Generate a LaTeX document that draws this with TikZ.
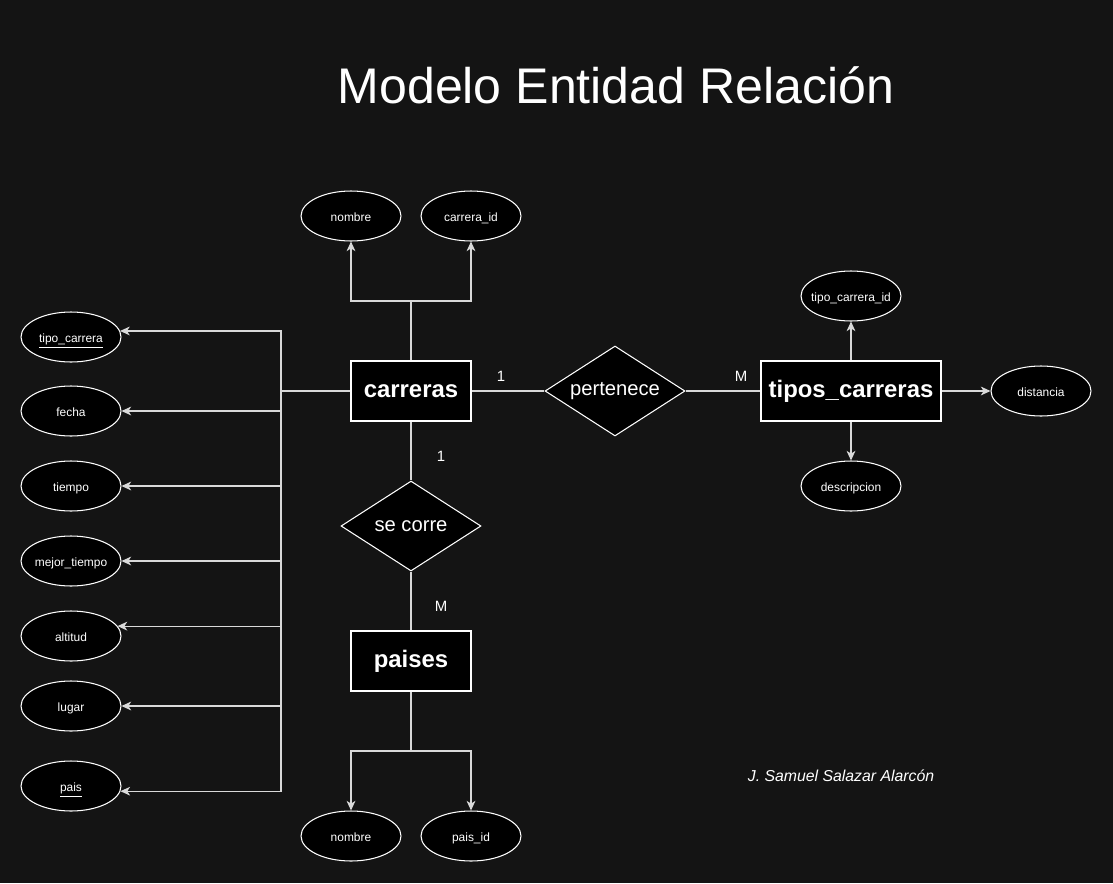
\documentclass[tikz,border=0pt]{standalone}
\usepackage{fontspec}
\setmainfont{Liberation Sans}
\usepackage{tikz}
\usetikzlibrary{shapes, arrows.meta, positioning}
\definecolor{bgdark}{HTML}{141414}

\begin{document}
\begin{tikzpicture}
  [
    x=0.02cm, y=-0.02cm,
    Entity/.style={rectangle, draw=white, fill=black, text=white, line width=0.6pt, minimum width=2.4cm, minimum height=1.2cm, text height=8pt, text depth=1pt, font=\bfseries\fontsize{13.6}{15}\selectfont},
    Rel/.style={diamond, aspect=1.55, draw=white, fill=black, text=white, line width=0.6pt, minimum width=2.8cm, minimum height=1.8cm, inner sep=0pt, font=\fontsize{11.5}{13}\selectfont},
    Attr/.style={ellipse, draw=white, fill=black, text=white, line width=0.6pt, minimum width=2cm, minimum height=1cm, inner xsep=-3pt, inner ysep=0pt, text height=1.6ex, text depth=0.4ex, font=\fontsize{6.8}{8}\selectfont},
    Card/.style={text=white, font=\fontsize{8.5}{10}\selectfont},
    Link/.style={draw=white!85!black, line width=0.6pt},
    Arrow/.style={Link, -{Stealth[length=5.5pt, width=5pt, inset=1.6pt]}}
  ]
  \fill[bgdark] (0,0) rectangle (1113,883);
  \useasboundingbox (0,0) rectangle (1113,883);
  % Nodes
  \node[text=white, font=\fontsize{28.5}{34}\selectfont] (title) at (616,85) {Modelo Entidad Relación};
  \node[Entity] (carreras) at (411,391) {carreras};
  \node[Entity, minimum width=3.6cm] (tipos) at (851,391) {tipos\_carreras};
  \node[Entity] (paises) at (411,661) {paises};
  \node[Rel] (pertenece) at (615,391) {pertenece};
  \node[Rel] (secorre) at (411,526) {se corre};
  \node[Attr] (cnombre) at (351,216) {nombre};
  \node[Attr] (carreraid) at (471,216) {carrera\_id};
  \node[Attr] (tipocarrera) at (71,337) {\underline{tipo\_carrera}};
  \node[Attr] (fecha) at (71,411) {fecha};
  \node[Attr] (tiempo) at (71,486) {tiempo};
  \node[Attr] (mejortiempo) at (71,561) {mejor\_tiempo};
  \node[Attr] (altitud) at (71,636) {altitud};
  \node[Attr] (lugar) at (71,706) {lugar};
  \node[Attr] (pais) at (71,786) {\underline{pais}};
  \node[Attr] (tipoid) at (851,296) {tipo\_carrera\_id};
  \node[Attr] (distancia) at (1041,391) {distancia};
  \node[Attr] (descripcion) at (851,486) {descripcion};
  \node[Attr] (pnombre) at (351,836) {nombre};
  \node[Attr] (paisid) at (471,836) {pais\_id};
  \node[Card] (card1) at (501,376) {1};
  \node[Card] (cardM) at (741,376) {M};
  \node[Card] (card2) at (441,456) {1};
  \node[Card] (cardM2) at (441,606) {M};
  \node[text=white, font=\itshape\fontsize{9}{11}\selectfont] (firma) at (841,776) {J. Samuel Salazar Alarcón};
  \coordinate (topj) at (411,301);
  \coordinate (leftj) at (281,391);
  \coordinate (botj) at (411,751);
  % Lines
  \path [Link] (carreras.north) -- (topj);
  \path [Arrow] (topj) -| (cnombre);
  \path [Arrow] (topj) -| (carreraid);
  \path [Link] (carreras.west) -- (leftj);
  \path [Arrow] (leftj) |- (tipocarrera.7);
  \path [Arrow] (leftj) |- (fecha);
  \path [Arrow] (leftj) |- (tiempo);
  \path [Arrow] (leftj) |- (mejortiempo);
  \path [Arrow] (leftj) |- (altitud.12);
  \path [Arrow] (leftj) |- (lugar);
  \path [Arrow] (leftj) |- (pais.-6);
  \path [Link] (carreras) -- (pertenece) -- (tipos);
  \path [Arrow] (tipos) -- (tipoid);
  \path [Arrow] (tipos) -- (distancia);
  \path [Arrow] (tipos) -- (descripcion);
  \path [Link] (carreras) -- (secorre) -- (paises);
  \path [Link] (paises.south) -- (botj);
  \path [Arrow] (botj) -| (pnombre);
  \path [Arrow] (botj) -| (paisid);
\end{tikzpicture}
\end{document}
